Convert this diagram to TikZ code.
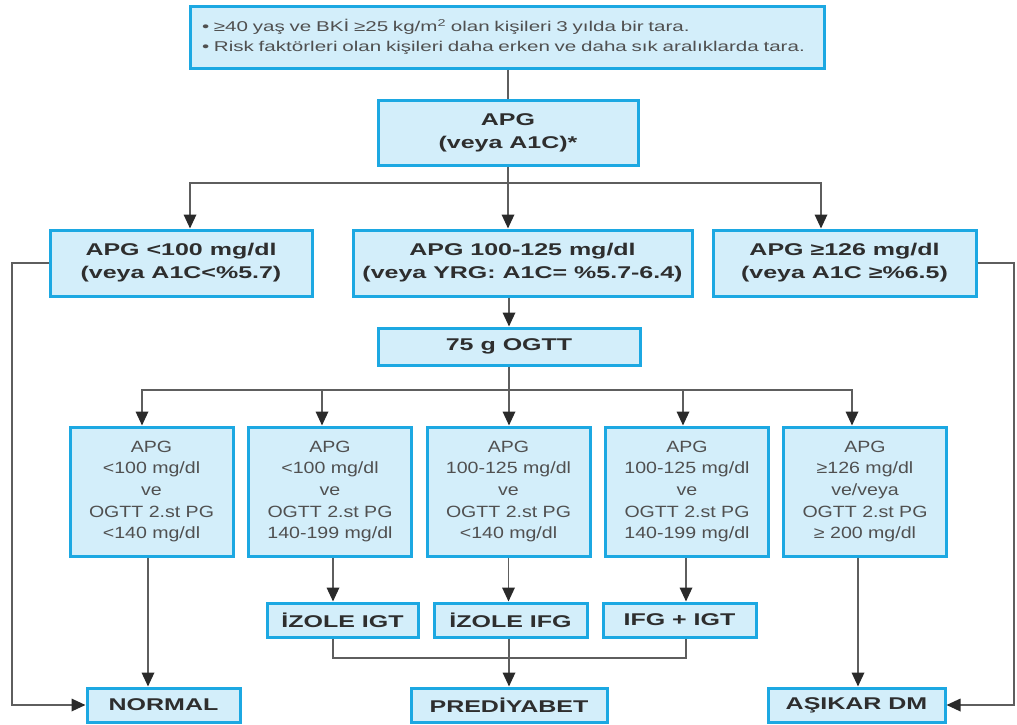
\documentclass[tikz,border=0pt]{standalone}
\usepackage{fontspec}
\setmainfont{Liberation Sans}[FakeStretch=1.2, BoldFeatures={FakeStretch=1.47}]
\newfontfamily\widefont{Liberation Sans}[FakeStretch=1.45]
\usetikzlibrary{arrows.meta}
\definecolor{boxfill}{HTML}{D3EEFA}
\definecolor{boxline}{HTML}{1CA8E2}
\definecolor{conn}{HTML}{5E5E5E}
\definecolor{tipc}{HTML}{2A2A2A}
\definecolor{txt}{HTML}{2E2E2E}
\definecolor{txtl}{HTML}{505050}
\begin{document}
\begin{tikzpicture}[x=1pt,y=-1pt,
  box/.style={draw=boxline, line width=3pt, fill=boxfill, inner sep=0pt, align=center, text=txt},
  bbox/.style={box, font=\fontsize{17}{23}\selectfont\bfseries},
  rbox/.style={box, font=\fontsize{16.3}{21.7}\selectfont, text=txtl},
  line/.style={draw=conn, line width=1.8pt},
  arr/.style={line, -{Triangle[length=14pt,width=12.5pt,color=tipc]}}]
\useasboundingbox (0,0) rectangle (1017,724);

% nodes
\node[rbox, minimum width=634pt, minimum height=62pt, text width=610pt, align=left, font=\widefont\fontsize{14.2}{19.5}\selectfont] (top) at (507,37)
  {• ≥40 yaş ve BKİ ≥25 kg/m\textsuperscript{2} olan kişileri 3 yılda bir tara.\\• Risk faktörleri olan kişileri daha erken ve daha sık aralıklarda tara.};
\node[bbox, minimum width=260pt, minimum height=65pt] (apg) at (508,132.5) {APG\\(veya A1C)*};

\node[bbox, minimum width=262pt, minimum height=66pt] (L) at (181,263) {APG <100 mg/dl\\(veya A1C<\%5.7)};
\node[bbox, minimum width=339pt, minimum height=66pt] (M) at (522.5,263) {APG 100-125 mg/dl\\(veya YRG: A1C= \%5.7-6.4)};
\node[bbox, minimum width=263pt, minimum height=66pt] (R) at (844.5,263) {APG ≥126 mg/dl\\(veya A1C ≥\%6.5)};

\node[bbox, minimum width=262pt, minimum height=37pt] (ogtt) at (509,346.5) {75 g OGTT};

\node[rbox, minimum width=163pt, minimum height=129pt] (r1) at (151.5,491.5) {APG\\<100 mg/dl\\ve\\OGTT 2.st PG\\<140 mg/dl};
\node[rbox, minimum width=163pt, minimum height=129pt] (r2) at (330,491.5) {APG\\<100 mg/dl\\ve\\OGTT 2.st PG\\140-199 mg/dl};
\node[rbox, minimum width=163pt, minimum height=129pt] (r3) at (508.5,491.5) {APG\\100-125 mg/dl\\ve\\OGTT 2.st PG\\<140 mg/dl};
\node[rbox, minimum width=163pt, minimum height=129pt] (r4) at (687,491.5) {APG\\100-125 mg/dl\\ve\\OGTT 2.st PG\\140-199 mg/dl};
\node[rbox, minimum width=163pt, minimum height=129pt] (r5) at (865,491.5) {APG\\≥126 mg/dl\\ve/veya\\OGTT 2.st PG\\≥ 200 mg/dl};

\node[bbox, minimum width=151pt, minimum height=34pt] (igt) at (342.5,620) {İZOLE IGT};
\node[bbox, minimum width=153pt, minimum height=34pt] (ifg) at (510.5,620) {İZOLE IFG};
\node[bbox, minimum width=153pt, minimum height=34pt] (both) at (679.5,620) {IFG + IGT};

\node[bbox, minimum width=153pt, minimum height=34pt] (normal) at (163.5,705) {NORMAL};
\node[bbox, minimum width=196pt, minimum height=34pt] (pre) at (509,705) {PREDİYABET};
\node[bbox, minimum width=177pt, minimum height=34pt] (dm) at (856.5,705) {AŞIKAR DM};

% coordinates
\coordinate (b1) at (508,183);
\coordinate (b2) at (509,390);
\coordinate (j) at (509,658);
\coordinate (lc) at (12,263);
\coordinate (rc) at (1014,263);

% connectors
\draw[line] (top.south -| apg.north) -- (apg.north);
\draw[line] (apg.south) -- (b1);
\draw[arr] (b1) -| ([xshift=9pt]L.north);
\draw[arr] (b1) -| ([xshift=-23.5pt]R.north);
\draw[arr] (b1) -- (b1 |- M.north);
\draw[arr] (M.south -| ogtt.north) -- (ogtt.north);

\draw[line] (ogtt.south) -- (b2);
\draw[arr] (b2) -| ([xshift=-9.5pt]r1.north);
\draw[arr] (b2) -| ([xshift=-8pt]r2.north);
\draw[arr] (b2) -- (b2 |- r3.north);
\draw[arr] (b2) -| ([xshift=-4pt]r4.north);
\draw[arr] (b2) -| ([xshift=-13pt]r5.north);

\draw[arr] ([xshift=-3.5pt]r1.south) -- ([xshift=-3.5pt]r1.south |- normal.north);
\draw[arr] ([xshift=3pt]r2.south) -- ([xshift=3pt]r2.south |- igt.north);
\draw[arr] (r3.south) -- (r3.south |- ifg.north);
\draw[arr] ([xshift=-1pt]r4.south) -- ([xshift=-1pt]r4.south |- both.north);
\draw[arr] ([xshift=-7pt]r5.south) -- ([xshift=-7pt]r5.south |- dm.north);

\draw[line] ([xshift=-9.5pt]igt.south) |- (j) -| ([xshift=6.5pt]both.south);
\draw[arr] (ifg.south -| pre.north) -- (pre.north);

\draw[arr] (L.west) -- (lc) |- (normal.west);
\draw[arr] (R.east) -- (rc) |- (dm.east);
\end{tikzpicture}
\end{document}
